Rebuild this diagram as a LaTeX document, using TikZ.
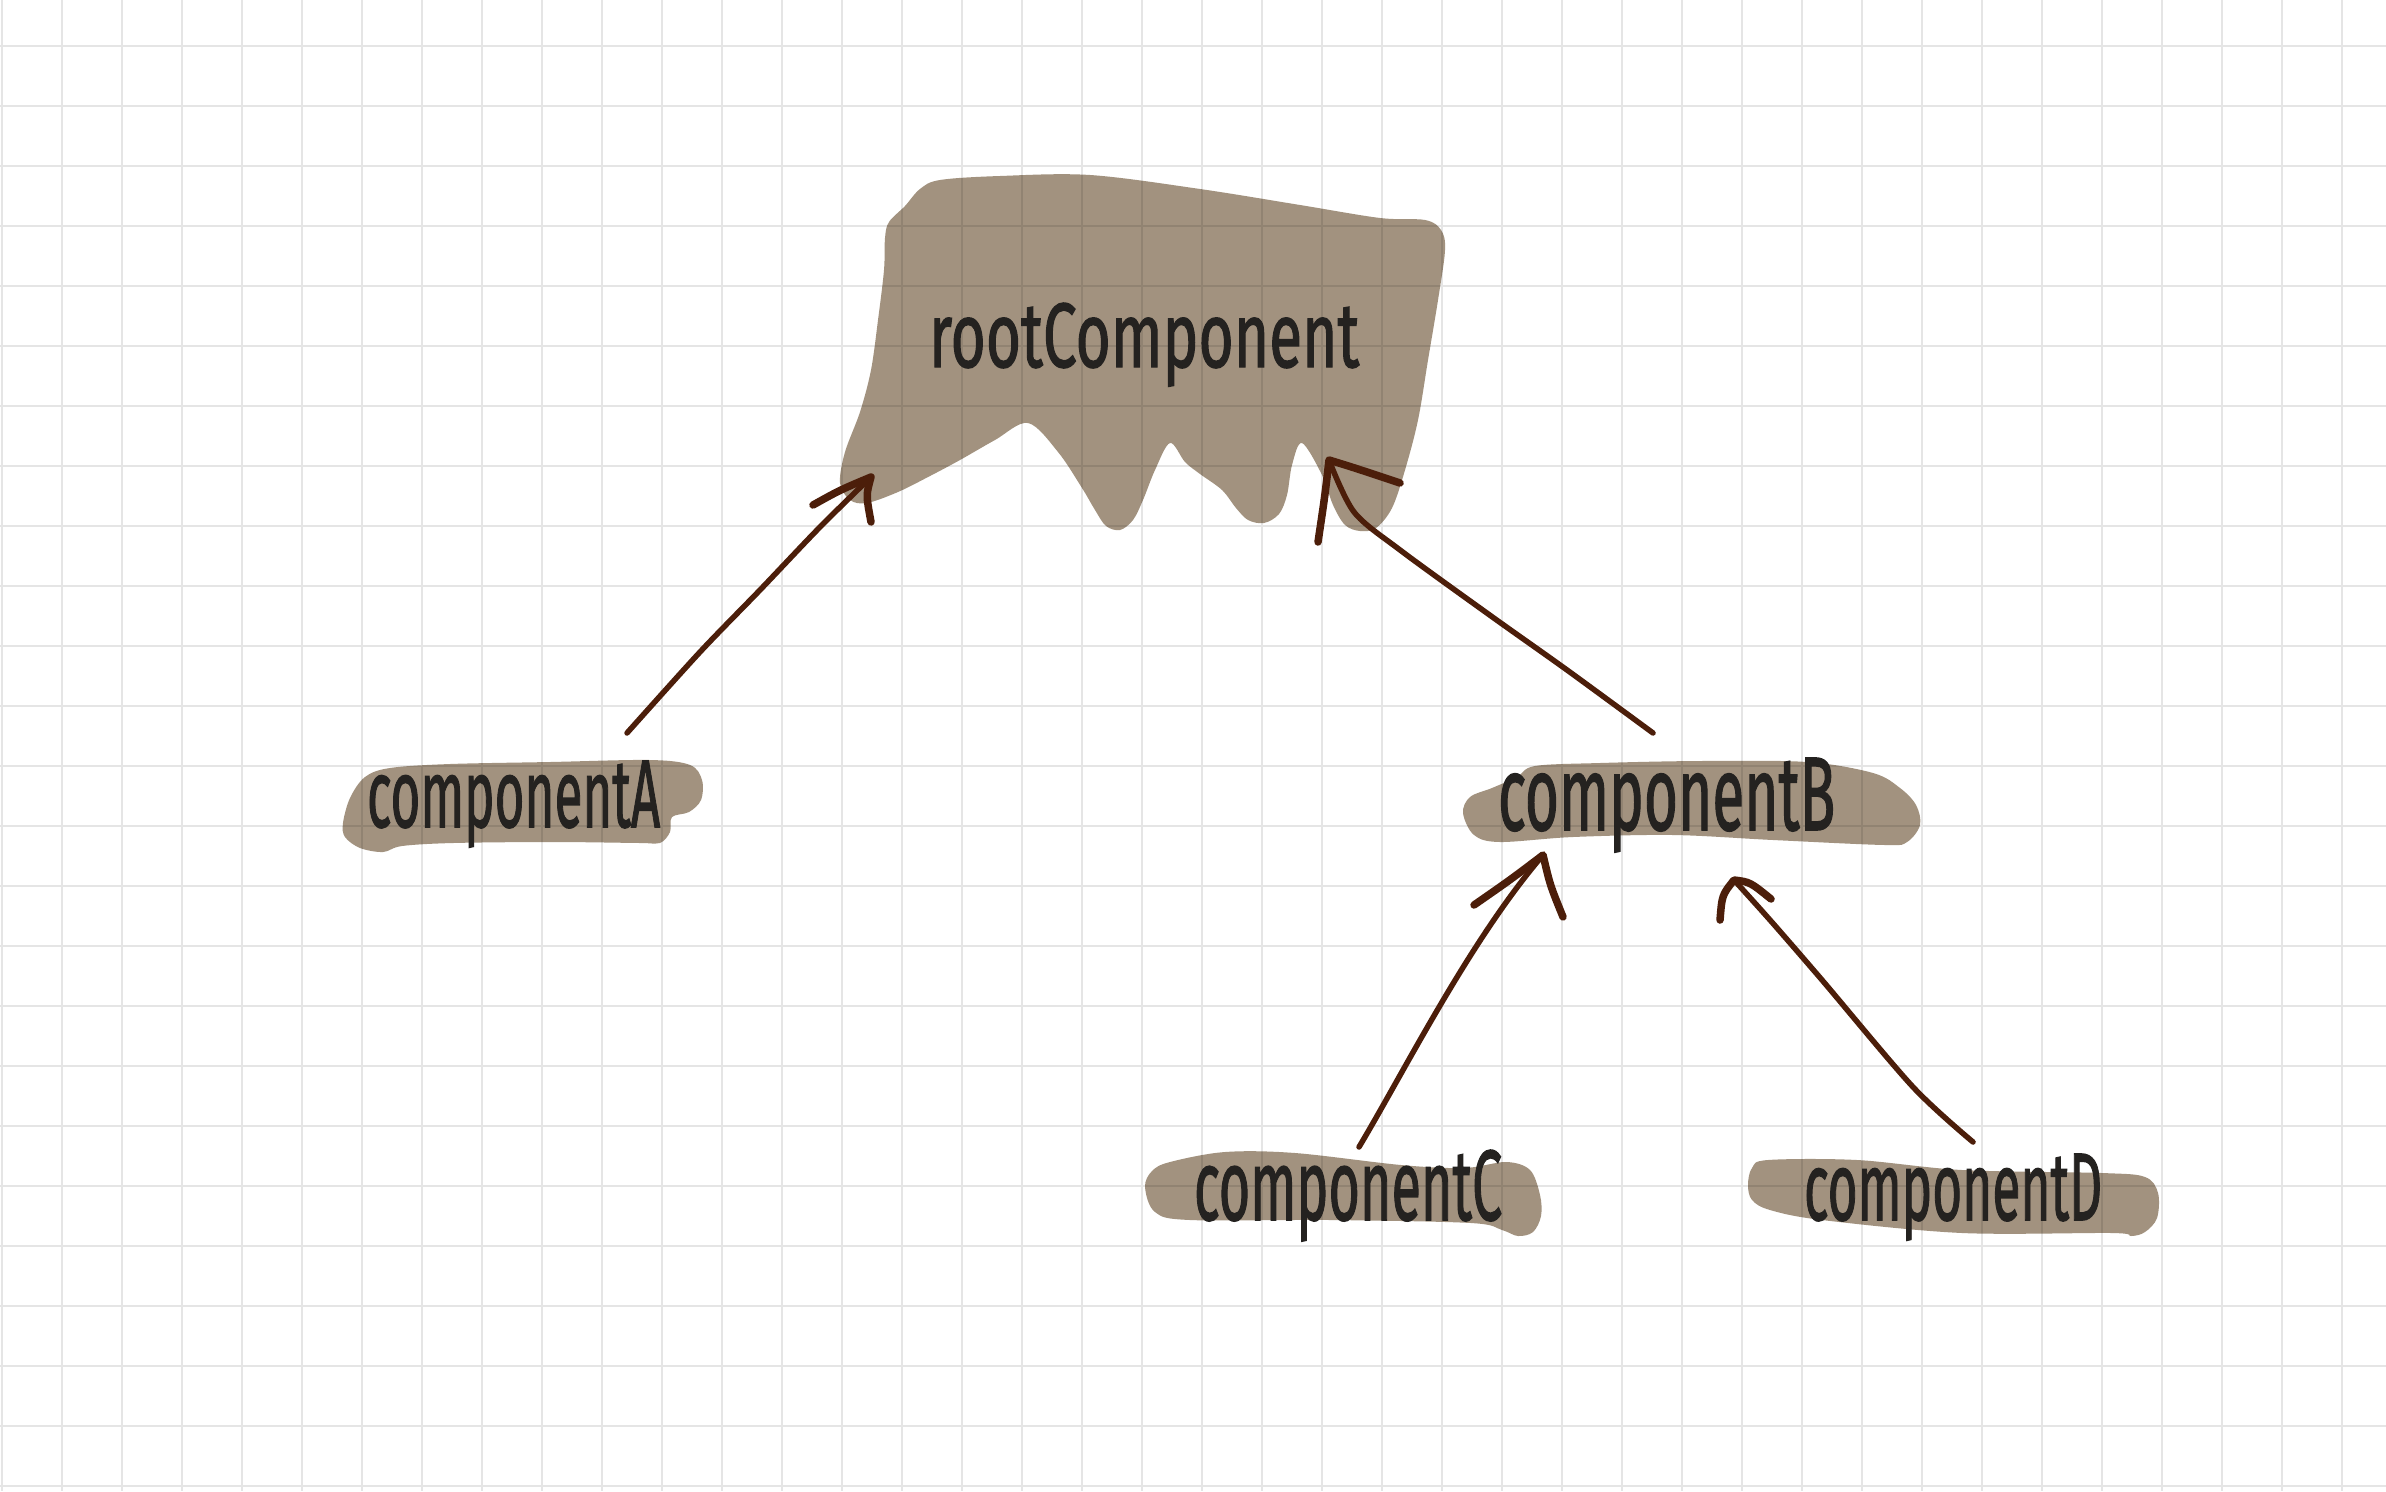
\documentclass[tikz,border=0pt]{standalone}
\usepackage{fontspec}
\setmainfont{Fira Sans}[FakeBold=1.6]
\usepackage{graphicx}
\definecolor{gridc}{RGB}{229,229,229}
\definecolor{blobc}{RGB}{162,146,127}
\definecolor{arrowc}{RGB}{76,30,10}
\definecolor{inkc}{RGB}{36,34,32}
\begin{document}
\begin{tikzpicture}[x=0.01cm,y=-0.01cm,
  gridline/.style={draw=gridc,line width=0.02cm},
  blobfill/.style={fill=blobc,blend mode=multiply},
  lbl/.style={anchor=base west,inner sep=0pt,outer sep=0pt,text=inkc},
  shaft/.style={draw=arrowc,line width=0.055cm,line cap=round,line join=round},
  barb/.style={draw=arrowc,line width=0.075cm,line cap=round,line join=round}]
\useasboundingbox[fill=white] (0,0) rectangle (2386,1491);
% grid
\foreach \i in {0,...,39} {\draw[gridline] (2+60*\i,0) -- (2+60*\i,1491);}
\foreach \j in {0,...,24} {\draw[gridline] (0,46+60*\j) -- (2386,46+60*\j);}
% blobs
\fill[blobfill] plot[smooth cycle,tension=0.55] coordinates {
 (889,222) (905,206) (920,189) (940,180) (1000,176) (1090,175) (1200,189) (1300,205)
 (1380,218) (1425,220) (1441,230) (1445,250) (1438,300) (1428,360) (1418,420)
 (1405,470) (1392,508) (1376,528) (1360,531) (1345,525) (1333,505) (1322,475)
 (1302,443) (1292,465) (1287,495) (1279,514) (1264,523) (1248,520) (1236,508)
 (1222,490) (1200,474) (1185,462) (1170,443) (1155,470) (1143,500) (1133,520)
 (1120,530) (1106,526) (1095,510) (1082,488) (1058,452) (1028,423) (995,440)
 (960,460) (930,476) (898,492) (867,503) (850,500) (840,483) (845,452) (860,412)
 (871,370) (878,320) (884,270) (885,238)};
\fill[blobfill] plot[smooth cycle,tension=0.55] coordinates {
 (343,823) (350,798) (365,777) (390,768) (450,764) (550,762) (650,760) (690,765)
 (702,780) (701,800) (689,812) (672,817) (670,832) (660,843) (640,843) (553,842)
 (453,843) (402,846) (383,852) (360,848) (345,837)};
\fill[blobfill] plot[smooth cycle,tension=0.55] coordinates {
 (1463,813) (1470,797) (1492,788) (1517,777) (1535,766) (1600,763) (1700,761)
 (1807,762) (1873,773) (1900,788) (1916,805) (1920,825) (1907,842) (1885,845)
 (1773,840) (1673,835) (1573,837) (1500,842) (1474,835)};
\fill[blobfill] plot[smooth cycle,tension=0.55] coordinates {
 (1145,1187) (1152,1171) (1170,1162) (1225,1152) (1295,1153) (1401,1165)
 (1464,1168) (1506,1162) (1530,1170) (1540,1195) (1541,1216) (1533,1232)
 (1518,1236) (1502,1230) (1471,1223) (1331,1220) (1190,1220) (1155,1212)};
\fill[blobfill] plot[smooth cycle,tension=0.55] coordinates {
 (1748,1185) (1752,1168) (1768,1160) (1857,1160) (1962,1170) (2102,1173)
 (2145,1177) (2158,1193) (2157,1218) (2145,1232) (2131,1236) (2112,1233)
 (1962,1233) (1822,1220) (1770,1210) (1752,1200)};
% labels
\node[lbl] (root) at (929,367) {\resizebox{4.30cm}{0.64cm}{rootComponent}};
\node[lbl] (A) at (367,827) {\resizebox{2.93cm}{0.66cm}{componentA}};
\node[lbl] (B) at (1498,830) {\resizebox{3.37cm}{0.72cm}{componentB}};
\node[lbl] (C) at (1194,1220) {\resizebox{3.08cm}{0.70cm}{componentC}};
\node[lbl] (D) at (1804,1220) {\resizebox{2.98cm}{0.66cm}{componentD}};
% arrow end points
\coordinate (aTail) at (627,733);  \coordinate (aTip) at (871,477);
\coordinate (bTail) at (1653,733); \coordinate (bTip) at (1329,460);
\coordinate (cTail) at (1359,1147); \coordinate (cTip) at (1543,855);
\coordinate (dTail) at (1973,1142); \coordinate (dTip) at (1734,880);
% A -> root
\draw[shaft] plot[smooth,tension=0.5] coordinates {(aTail) (700,652) (760,590) (820,527) (aTip)};
\draw[barb] (813,505) .. controls (840,490) .. (aTip) .. controls (866,495) .. (871,522);
% B -> root
\draw[shaft] plot[smooth,tension=0.5] coordinates {(bTail) (1567,670) (1491,616) (1400,550) (1354,512) (bTip)};
\draw[barb] (1400,483) .. controls (1355,468) .. (bTip) .. controls (1325,495) .. (1318,542);
% C -> B
\draw[shaft] (cTail) .. controls (1405,1070) and (1470,940) .. (cTip);
\draw[barb] (1474,905) .. controls (1510,880) .. (cTip) .. controls (1550,885) .. (1563,917);
% D -> B
\draw[shaft] plot[smooth,tension=0.5] coordinates {(dTail) (1913,1087) (1822,980) (1770,920) (dTip)};
\draw[barb] (1771,899) .. controls (1750,882) .. (dTip) .. controls (1722,895) .. (1720,920);
\end{tikzpicture}
\end{document}
